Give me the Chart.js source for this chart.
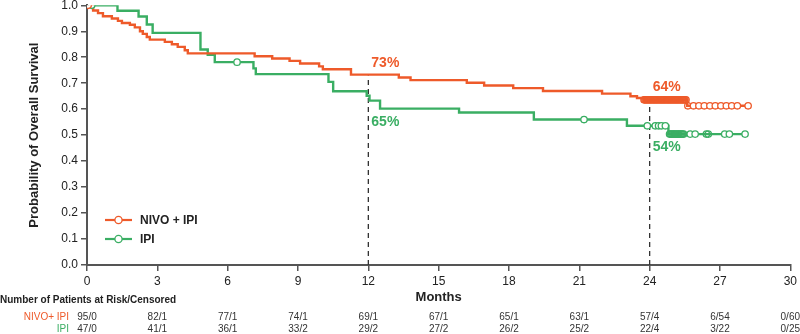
<!DOCTYPE html>
<html>
<head>
<meta charset="utf-8">
<script src="https://cdn.jsdelivr.net/npm/chart.js@4.4.0/dist/chart.umd.min.js"></script>
<style>
  html, body { margin: 0; padding: 0; background: #fff; }
  canvas { display: block; }
</style>
</head>
<body>
<canvas id="osChart" width="800" height="334"></canvas>
<script>
const nivoColor = '#ee5a2a';
const ipiColor = '#3aae63';
const axisColor = '#555';
const textColor = '#222';

// Kaplan-Meier steps: month of each drop and survival after it
const nivoMonths = [0, 0.26, 0.47, 0.68, 1.06, 1.32, 1.49, 1.83, 2.04, 2.26, 2.38, 2.55, 2.68, 3.32, 3.62, 3.87, 4.17, 4.3, 7.15, 7.9, 8.64, 9.09, 9.9, 10.06, 11.26, 13.3, 13.8, 16.2, 16.94, 18.18, 19.45, 21.97, 23.18, 23.46, 23.74, 25.6, 28.2];
const nivoSurv = [1, 0.98, 0.97, 0.958, 0.949, 0.94, 0.932, 0.925, 0.915, 0.9, 0.89, 0.878, 0.868, 0.859, 0.85, 0.84, 0.827, 0.815, 0.804, 0.795, 0.786, 0.776, 0.765, 0.754, 0.733, 0.722, 0.712, 0.702, 0.691, 0.681, 0.67, 0.66, 0.65, 0.643, 0.636, 0.613, 0.613];

const ipiMonths = [0, 1.3, 2.2, 2.55, 2.8, 4.84, 5.15, 5.45, 7.1, 7.2, 10.3, 10.5, 11.93, 12.05, 12.5, 15.87, 19.06, 23.03, 24.8, 28.07];
const ipiSurv = [1, 0.979, 0.957, 0.926, 0.894, 0.83, 0.809, 0.781, 0.757, 0.735, 0.705, 0.669, 0.652, 0.633, 0.602, 0.587, 0.56, 0.536, 0.504, 0.504];

// censoring times (months)
const nivoCensored = [0.05, 23.76, 23.8, 23.85, 23.9, 23.95, 24, 24.05, 24.1, 24.15, 24.2, 24.25, 24.3, 24.35, 24.4, 24.45, 24.5, 24.55, 24.6, 24.65, 24.7, 24.75, 24.8, 24.85, 24.9, 24.95, 25, 25.05, 25.1, 25.15, 25.2, 25.25, 25.3, 25.35, 25.4, 25.45, 25.5, 25.55, 25.63, 25.87, 26.1, 26.33, 26.57, 26.8, 27.04, 27.27, 27.5, 27.74, 28.2];
const ipiCensored = [0.2, 6.4, 21.2, 23.9, 24.24, 24.38, 24.5, 24.67, 24.85, 24.9, 24.95, 25, 25.05, 25.1, 25.15, 25.2, 25.25, 25.3, 25.35, 25.4, 25.45, 25.73, 25.94, 26.42, 26.5, 27.2, 27.4, 28.07];

// landmark survival rates
const landmarkMonths = [12, 24];
const nivoLandmark = [0.73, 0.64];
const ipiLandmark = [0.65, 0.54];

// patients at risk / censored
const riskMonths = [0, 3, 6, 9, 12, 15, 18, 21, 24, 27, 30];
const nivoAtRisk = ['95/0', '82/1', '77/1', '74/1', '69/1', '67/1', '65/1', '63/1', '57/4', '6/54', '0/60'];
const ipiAtRisk = ['47/0', '41/1', '36/1', '33/2', '29/2', '27/2', '26/2', '25/2', '22/4', '3/22', '0/25'];

function survAt(months, surv, t) {
  let s = surv[0];
  for (let i = 0; i < months.length; i++) {
    if (months[i] <= t) s = surv[i];
  }
  return s;
}

const steps = (months, surv) => months.map((m, i) => ({ x: m, y: surv[i] }));
const marks = (times, months, surv) => times.map(t => ({ x: t, y: survAt(months, surv, t) }));

// open circles, but the tightly packed ones are left unfilled so they merge into a bar
function censorFill(c) {
  const pts = c.dataset.data;
  const i = c.dataIndex;
  const near = (j) => pts[j] && Math.abs(pts[j].x - pts[i].x) < 0.1;
  return near(i - 1) || near(i + 1) ? 'rgba(255,255,255,0)' : '#fff';
}

const censorStyle = color => ({
  type: 'line',
  showLine: false,
  pointStyle: 'circle',
  pointRadius: 3.2,
  pointBorderWidth: 1.3,
  pointBorderColor: color,
  pointBackgroundColor: censorFill,
  borderColor: color
});

const datasets = [
  Object.assign({ data: marks(nivoCensored, nivoMonths, nivoSurv) }, censorStyle(nivoColor)),
  Object.assign({ data: marks(ipiCensored, ipiMonths, ipiSurv) }, censorStyle(ipiColor)),
  { data: steps(nivoMonths, nivoSurv), borderColor: nivoColor, borderWidth: 2.4, stepped: 'before', pointRadius: 0 },
  { data: steps(ipiMonths, ipiSurv), borderColor: ipiColor, borderWidth: 2.4, stepped: 'before', pointRadius: 0 }
];

landmarkMonths.forEach((m, i) => {
  datasets.push({
    data: [{ x: m, y: 0 }, { x: m, y: nivoLandmark[i] }],
    borderColor: '#333',
    borderWidth: 1.3,
    borderDash: [5, 4],
    pointRadius: 0
  });
});

const tablePlugin = {
  id: 'tablePlugin',
  afterDraw(chart) {
    const ctx = chart.ctx;
    const xs = chart.scales.x;
    const ys = chart.scales.y;
    ctx.save();

    // landmark percentages
    ctx.font = 'bold 14px Arial';
    ctx.textAlign = 'left';
    ctx.textBaseline = 'middle';
    landmarkMonths.forEach((m, i) => {
      const px = xs.getPixelForValue(m) + 3;
      ctx.fillStyle = nivoColor;
      ctx.fillText(Math.round(nivoLandmark[i] * 100) + '%', px, ys.getPixelForValue(nivoLandmark[i]) - 12);
      ctx.fillStyle = ipiColor;
      ctx.fillText(Math.round(ipiLandmark[i] * 100) + '%', px, ys.getPixelForValue(ipiLandmark[i]) + (i === 0 ? 26 : 22));
    });

    // legend
    const legend = [['NIVO + IPI', nivoColor, 220], ['IPI', ipiColor, 239]];
    legend.forEach(([label, color, y]) => {
      ctx.strokeStyle = color;
      ctx.lineWidth = 2.2;
      ctx.beginPath();
      ctx.moveTo(105, y);
      ctx.lineTo(132, y);
      ctx.stroke();
      ctx.fillStyle = '#fff';
      ctx.lineWidth = 1.3;
      ctx.beginPath();
      ctx.arc(118.5, y, 3.6, 0, Math.PI * 2);
      ctx.fill();
      ctx.stroke();
      ctx.fillStyle = textColor;
      ctx.font = 'bold 12px Arial';
      ctx.fillText(label, 140, y + 1);
    });

    // x axis title
    ctx.font = 'bold 13px Arial';
    ctx.textAlign = 'center';
    ctx.fillStyle = textColor;
    ctx.fillText('Months', (xs.left + xs.right) / 2, 297);

    // at-risk table
    ctx.textAlign = 'left';
    ctx.font = 'bold 10px Arial';
    ctx.fillText('Number of Patients at Risk/Censored', 0, 300);

    ctx.font = '10px Arial';
    ctx.textAlign = 'right';
    ctx.fillStyle = nivoColor;
    ctx.fillText('NIVO+ IPI', 69, 317);
    ctx.fillStyle = ipiColor;
    ctx.fillText('IPI', 69, 329);

    ctx.fillStyle = '#333';
    ctx.textAlign = 'center';
    riskMonths.forEach((m, i) => {
      let px = xs.getPixelForValue(m);
      const w = Math.max(ctx.measureText(nivoAtRisk[i]).width, ctx.measureText(ipiAtRisk[i]).width);
      px = Math.min(px, 800 - w / 2);
      ctx.fillText(nivoAtRisk[i], px, 317);
      ctx.fillText(ipiAtRisk[i], px, 329);
    });
    ctx.restore();
  }
};

const ctx = document.getElementById('osChart').getContext('2d');
const osChart = new Chart(ctx, {
  type: 'line',
  data: { datasets: datasets },
  options: {
    responsive: false,
    animation: false,
    layout: { padding: { left: 0, right: 8, top: 5, bottom: 0 } },
    plugins: { legend: { display: false }, tooltip: { enabled: false } },
    scales: {
      x: {
        type: 'linear',
        min: 0,
        max: 30,
        afterFit: s => { s.height = 69; },
        ticks: { stepSize: 3, color: textColor, font: { family: 'Arial', size: 12 }, padding: 3, maxRotation: 0 },
        grid: { drawOnChartArea: false, tickLength: 6, color: axisColor, lineWidth: 1.5 },
        border: { color: axisColor, width: 2 }
      },
      y: {
        min: 0,
        max: 1,
        afterFit: s => { s.width = 87; s.paddingTop = 0; s.paddingBottom = 0; },
        ticks: { stepSize: 0.1, color: textColor, font: { family: 'Arial', size: 12 }, padding: 3, callback: v => v.toFixed(1) },
        grid: { drawOnChartArea: false, tickLength: 6, color: axisColor, lineWidth: 1.5 },
        border: { color: axisColor, width: 2 },
        title: {
          display: true,
          text: 'Probability of Overall Survival',
          color: textColor,
          font: { family: 'Arial', size: 13, weight: 'bold' },
          padding: { top: 27, bottom: 0 }
        }
      }
    }
  },
  plugins: [tablePlugin]
});
</script>
</body>
</html>
